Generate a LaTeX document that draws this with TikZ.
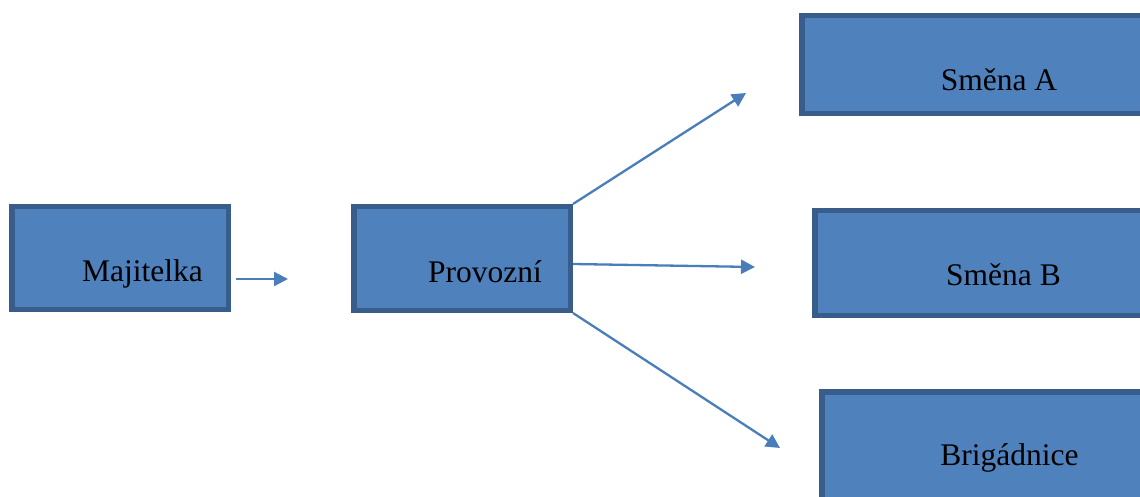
\documentclass[tikz,border=0pt]{standalone}
\usepackage{fontspec}
\setmainfont{Liberation Serif}
\usetikzlibrary{arrows.meta,calc}
\definecolor{boxfill}{HTML}{4F81BD}
\definecolor{boxline}{HTML}{385D8A}
\definecolor{arrowcol}{HTML}{4A7EBB}
\begin{document}
\begin{tikzpicture}[x=1pt,y=-1pt,
  box/.style={rectangle, draw=boxline, fill=boxfill, line width=5.5pt, inner sep=0pt},
  lbl/.style={anchor=base, inner sep=0pt, font=\fontsize{31.5}{36}\selectfont},
  conn/.style={draw=arrowcol, line width=2.3pt, -{Triangle[length=14pt,width=14pt]}}]
\useasboundingbox (0,0) rectangle (1140,497);
\clip (0,0) rectangle (1140,497);
% boxes (outer extents minus half line width)
\node[box, minimum width=216.5pt, minimum height=102.5pt] (maj) at (120,258) {};
\node[box, minimum width=216.5pt, minimum height=103.5pt] (prov) at (462,258.5) {};
\node[box, minimum width=394.5pt, minimum height=98pt] (smA) at (999,64.5) {};
\node[box, minimum width=384.5pt, minimum height=104.5pt] (smB) at (1007,263) {};
\node[box, minimum width=374.5pt, minimum height=144.5pt] (brig) at (1009,464) {};
% labels
\node[lbl] (tmaj) at (142.5,281) {Majitelka};
\node[lbl] (tprov) at (485,282) {Provozní};
\node[lbl] (tA) at (999,91) {Směna A};
\node[lbl] (tB) at (1003.5,285) {Směna B};
\node[lbl] (tbrig) at (1009.5,465) {Brigádnice};
% arrow end points
\coordinate (m0) at (236,279);
\coordinate (m1) at (288,279);
\coordinate (p1) at (573,264);
\coordinate (eA) at (746,93);
\coordinate (eB) at (755,267);
\coordinate (eC) at (780,448);
\draw[conn] (m0) -- (m1);
\draw[conn] (prov.north east) -- (eA);
\draw[conn] (p1) -- (eB);
\draw[conn] (prov.south east) -- (eC);
\end{tikzpicture}
\end{document}
